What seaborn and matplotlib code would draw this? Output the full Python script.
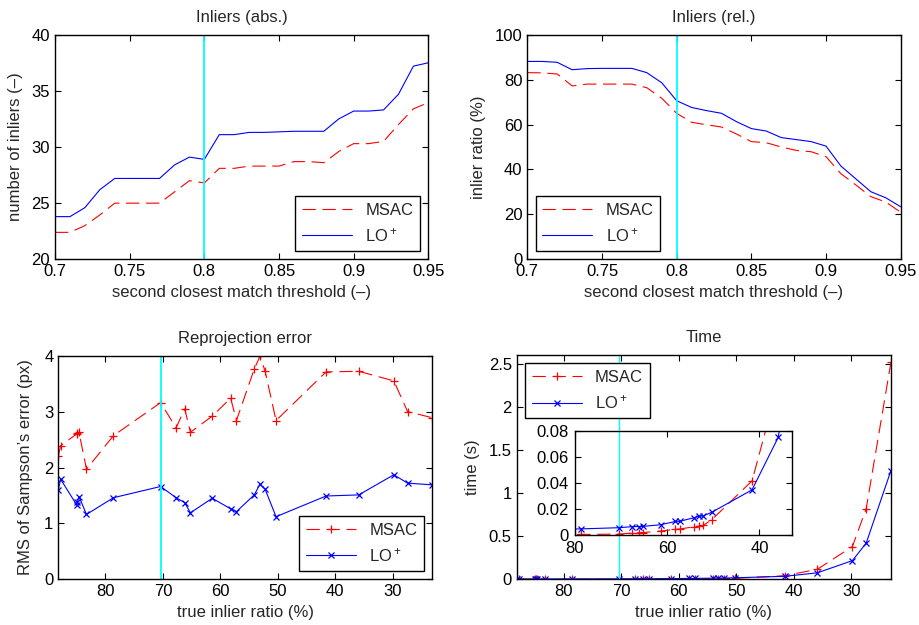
import matplotlib
matplotlib.use("Agg")
import matplotlib.pyplot as plt
from matplotlib.ticker import FuncFormatter
import seaborn as sns

# top row: second closest match threshold
thresholds = [0.70, 0.71, 0.72, 0.73, 0.74, 0.75, 0.76, 0.77, 0.78, 0.79,
              0.80, 0.81, 0.82, 0.83, 0.84, 0.85, 0.86, 0.87, 0.88, 0.89,
              0.90, 0.91, 0.92, 0.93, 0.94, 0.95]
msac_abs = [22.4, 22.4, 23.0, 23.95, 25.0, 25.0, 25.0, 25.0, 26.0, 27.0,
            26.8, 28.1, 28.1, 28.3, 28.3, 28.3, 28.7, 28.7, 28.6, 29.6,
            30.3, 30.3, 30.5, 32.0, 33.4, 33.95]
lo_abs = [23.8, 23.8, 24.6, 26.2, 27.2, 27.2, 27.2, 27.2, 28.4, 29.1,
          28.9, 31.1, 31.1, 31.3, 31.3, 31.35, 31.4, 31.4, 31.4, 32.5,
          33.2, 33.2, 33.3, 34.7, 37.2, 37.5]
msac_rel = [83.1, 83.0, 82.5, 77.2, 78.0, 78.0, 78.0, 78.0, 76.4, 71.7,
            65.0, 61.0, 59.9, 58.9, 55.8, 52.4, 51.9, 50.0, 48.5, 47.9,
            45.7, 38.1, 33.1, 27.9, 25.5, 21.0]
lo_rel = [88.1, 88.1, 87.7, 84.4, 84.9, 85.0, 85.0, 85.0, 83.1, 78.6,
          70.6, 67.6, 66.2, 65.0, 61.3, 58.2, 57.1, 54.2, 53.3, 52.4,
          50.4, 41.5, 35.8, 30.1, 27.4, 23.4]

# bottom row: true inlier ratio
true_ratio = [88.2, 87.8, 85.0, 84.9, 84.6, 83.3, 78.6, 70.4, 67.7, 66.2,
              65.2, 61.4, 58.2, 57.2, 54.1, 53.1, 52.2, 50.3, 41.6, 35.9,
              29.8, 27.4, 23.1]
msac_err = [2.21, 2.39, 2.60, 2.62, 2.63, 1.97, 2.57, 3.16, 2.71, 3.05,
            2.63, 2.92, 3.24, 2.84, 3.76, 3.99, 3.72, 2.84, 3.71, 3.72,
            3.55, 3.00, 2.89]
lo_err = [1.60, 1.79, 1.33, 1.38, 1.48, 1.16, 1.46, 1.66, 1.46, 1.37,
          1.19, 1.45, 1.26, 1.21, 1.51, 1.70, 1.61, 1.12, 1.49, 1.51,
          1.87, 1.72, 1.69]
msac_time = [0.0002, 0.0002, 0.0003, 0.0003, 0.0003, 0.0003, 0.0004, 0.0007,
             0.0015, 0.0018, 0.0019, 0.0030, 0.0044, 0.0046, 0.0064, 0.0068,
             0.0073, 0.0118, 0.0415, 0.116, 0.38, 0.82, 2.515]
lo_time = [0.0040, 0.0040, 0.0042, 0.0042, 0.0042, 0.0043, 0.0047, 0.0056,
           0.0064, 0.0065, 0.0066, 0.0079, 0.0104, 0.0106, 0.0133, 0.0144,
           0.0146, 0.0175, 0.0346, 0.075, 0.217, 0.42, 1.26]

chosen_threshold = 0.8
chosen_ratio = 70.4

sns.set_theme(style="ticks")
plt.rcParams["font.family"] = ["Liberation Sans", "DejaVu Sans"]
plt.rcParams["mathtext.default"] = "regular"
plt.rcParams["font.size"] = 12

fmt = FuncFormatter(lambda v, p: f"{v:g}")


def style_axes(ax):
    ax.tick_params(direction="in", top=True, right=True, bottom=True, left=True,
                   length=4.5, width=0.8, labelsize=12, colors="black", pad=3.5)
    for s in ax.spines.values():
        s.set_visible(True)
        s.set_color("black")
        s.set_linewidth(1.0)
    ax.xaxis.set_major_formatter(fmt)
    ax.yaxis.set_major_formatter(fmt)


def draw_pair(ax, x, msac, lo, markers=False):
    mk_m = dict(marker="+", markersize=6, markeredgewidth=0.9, markeredgecolor="red") if markers else {}
    mk_l = dict(marker="x", markersize=4, markeredgewidth=0.9, markeredgecolor="blue") if markers else {}
    sns.lineplot(x=x, y=msac, ax=ax, color="red", linewidth=0.8, linestyle=(0, (12, 6)),
                 label="MSAC", estimator=None, sort=False, **mk_m)
    sns.lineplot(x=x, y=lo, ax=ax, color="blue", linewidth=0.8, linestyle="-",
                 label="LO$^+$", estimator=None, sort=False, **mk_l)


def add_legend(ax, loc):
    leg = ax.legend(loc=loc, fancybox=False, edgecolor="black", framealpha=1,
                    fontsize=12, handlelength=3, borderpad=0.4, labelspacing=0.5)
    leg.get_frame().set_linewidth(1.0)
    leg.set_zorder(10)


fig = plt.figure(figsize=(9.2, 6.25), dpi=100)
ax1 = fig.add_axes([0.0598, 0.5851, 0.4058, 0.3594])
ax2 = fig.add_axes([0.5732, 0.5851, 0.4058, 0.3594])
ax3 = fig.add_axes([0.0634, 0.0731, 0.4065, 0.3578])
ax4 = fig.add_axes([0.5616, 0.0731, 0.4068, 0.3589])

# Inliers (abs.)
draw_pair(ax1, thresholds, msac_abs, lo_abs)
ax1.axvline(chosen_threshold, color="cyan", linewidth=1.3)
ax1.set_xlim(0.7, 0.95)
ax1.set_ylim(20, 40)
ax1.set_xticks([0.7, 0.75, 0.8, 0.85, 0.9, 0.95])
ax1.set_yticks([20, 25, 30, 35, 40])
ax1.set_title("Inliers (abs.)", fontsize=12, pad=9)
ax1.set_xlabel("second closest match threshold (\u2013)", fontsize=12)
ax1.set_ylabel("number of inliers (\u2013)", fontsize=12, labelpad=6)
style_axes(ax1)
add_legend(ax1, "lower right")

# Inliers (rel.)
draw_pair(ax2, thresholds, msac_rel, lo_rel)
ax2.axvline(chosen_threshold, color="cyan", linewidth=1.3)
ax2.set_xlim(0.7, 0.95)
ax2.set_ylim(0, 100)
ax2.set_xticks([0.7, 0.75, 0.8, 0.85, 0.9, 0.95])
ax2.set_yticks([0, 20, 40, 60, 80, 100])
ax2.set_title("Inliers (rel.)", fontsize=12, pad=9)
ax2.set_xlabel("second closest match threshold (\u2013)", fontsize=12)
ax2.set_ylabel("inlier ratio (%)", fontsize=12, labelpad=6)
style_axes(ax2)
add_legend(ax2, "lower left")

# Reprojection error
draw_pair(ax3, true_ratio, msac_err, lo_err, markers=True)
ax3.axvline(chosen_ratio, color="cyan", linewidth=1.3)
ax3.set_xlim(max(true_ratio), min(true_ratio))
ax3.set_ylim(0, 4)
ax3.set_xticks([80, 70, 60, 50, 40, 30])
ax3.set_yticks([0, 1, 2, 3, 4])
ax3.set_title("Reprojection error", fontsize=12, pad=9)
ax3.set_xlabel("true inlier ratio (%)", fontsize=12)
ax3.set_ylabel("RMS of Sampson\u2019s error (px)", fontsize=12, labelpad=8)
style_axes(ax3)
add_legend(ax3, "lower right")

# Time
draw_pair(ax4, true_ratio, msac_time, lo_time, markers=True)
ax4.axvline(chosen_ratio, color="cyan", linewidth=1.0)
ax4.set_xlim(max(true_ratio), min(true_ratio))
ax4.set_ylim(0, 2.6)
ax4.set_xticks([80, 70, 60, 50, 40, 30])
ax4.set_yticks([0, 0.5, 1, 1.5, 2, 2.5])
ax4.set_title("Time", fontsize=12, pad=9)
ax4.set_xlabel("true inlier ratio (%)", fontsize=12)
ax4.set_ylabel("time (s)", fontsize=12, labelpad=6)
style_axes(ax4)
add_legend(ax4, "upper left")

# zoomed inset of the low-time region
axin = fig.add_axes([0.625, 0.144, 0.2355, 0.1669], facecolor="none")
draw_pair(axin, true_ratio, msac_time, lo_time, markers=True)
axin.set_xlim(80, 33)
axin.set_ylim(0, 0.08)
axin.set_xticks([80, 60, 40])
axin.set_yticks([0, 0.02, 0.04, 0.06, 0.08])
axin.set_xlabel("")
axin.set_ylabel("")
style_axes(axin)
axin.tick_params(pad=4.5)
axin.get_legend().remove()

fig.savefig("out.png", dpi=100)
